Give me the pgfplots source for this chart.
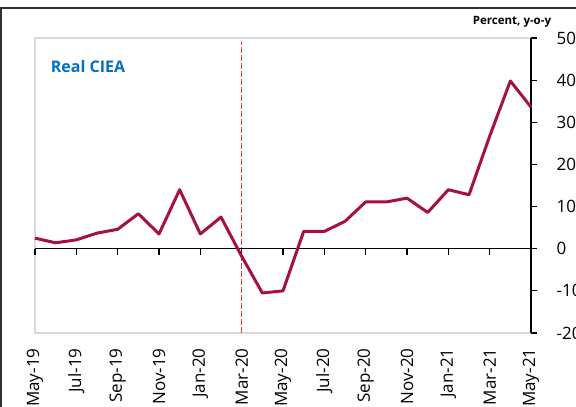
\documentclass[border=0pt]{standalone}
\usepackage{pgfplots}
\pgfplotsset{compat=1.18}
\usepackage{fontspec}
\setmainfont{Open Sans}
\definecolor{ciea}{RGB}{166,16,66}
\definecolor{covid}{RGB}{222,70,70}
\definecolor{ttl}{RGB}{0,112,192}
\definecolor{boxgray}{RGB}{217,217,217}
\definecolor{framecol}{RGB}{50,50,50}
\begin{document}
\begin{tikzpicture}
\begin{axis}[
  scale only axis, width=496pt, height=295pt,
  xmin=0, xmax=24, ymin=-20, ymax=50,
  xtick={0,2,...,24},
  xticklabels={May-19,Jul-19,Sep-19,Nov-19,Jan-20,Mar-20,May-20,Jul-20,Sep-20,Nov-20,Jan-21,Mar-21,May-21},
  xticklabel style={font=\fontsize{17}{20}\selectfont, rotate=90, anchor=east},
  xticklabel shift=12pt,
  ytick={-20,-10,...,50},
  yticklabel pos=right,
  yticklabel shift=22pt,
  /pgf/number format/assume math mode=true,
  yticklabel style={font=\fontsize{17}{20}\selectfont, anchor=west},
  axis line style={draw=none},
  major tick length=0pt,
  clip=false,
]
  % plot area frame
  \draw[boxgray, line width=1.5pt] (rel axis cs:1,0) -- (rel axis cs:0,0) -- (rel axis cs:0,1) -- (rel axis cs:1,1);
  \addplot[color=covid, line width=1.5pt, dash pattern=on 6pt off 2pt] coordinates {(10,-20) (10,49)};
  % zero line and right axis with ticks
  \draw[black, line width=1.2pt] (axis cs:0,0) -- (axis cs:24,0);
  \draw[black, line width=1.2pt] (rel axis cs:1,0) -- (rel axis cs:1,1);
  \pgfplotsinvokeforeach{0,2,...,24}{\draw[black, line width=1.2pt] (axis cs:#1,0) -- ([yshift=-6pt]axis cs:#1,0);}
  \pgfplotsinvokeforeach{-20,-10,...,50}{\draw[black, line width=1.2pt] (axis cs:24,#1) -- ([xshift=6pt]axis cs:24,#1);}
  \addplot[color=ciea, line width=3pt, line join=round] coordinates {
    (0,2.5) (1,1.4) (2,2.1) (3,3.7) (4,4.6) (5,8.3) (6,3.5) (7,14.0)
    (8,3.5) (9,7.5) (10,-1.8) (11,-10.5) (12,-10.0) (13,4.1) (14,4.1)
    (15,6.5) (16,11.1) (17,11.1) (18,12.0) (19,8.6) (20,14.0) (21,12.8)
    (22,26.7) (23,39.8) (24,33.6)
  };
  \node[anchor=west, text=ttl, font=\bfseries\fontsize{16}{18}\selectfont]
    at (rel axis cs:0.025,0.902) {Real CIEA};
  \node[font=\bfseries\fontsize{11.5}{13}\selectfont]
    at (rel axis cs:0.9617,1.054) {Percent, y-o-y};
  \draw[framecol, line width=2pt] (rel axis cs:-0.0685,-0.26) -- (rel axis cs:-0.0685,1.1017) -- (rel axis cs:1.1,1.1017);
  \coordinate (bl) at (rel axis cs:-0.07056,-0.2508);
  \coordinate (tr) at (rel axis cs:1.0907,1.1288);
\end{axis}
\pgfresetboundingbox
\useasboundingbox (bl) rectangle (tr);
\end{tikzpicture}
\end{document}
